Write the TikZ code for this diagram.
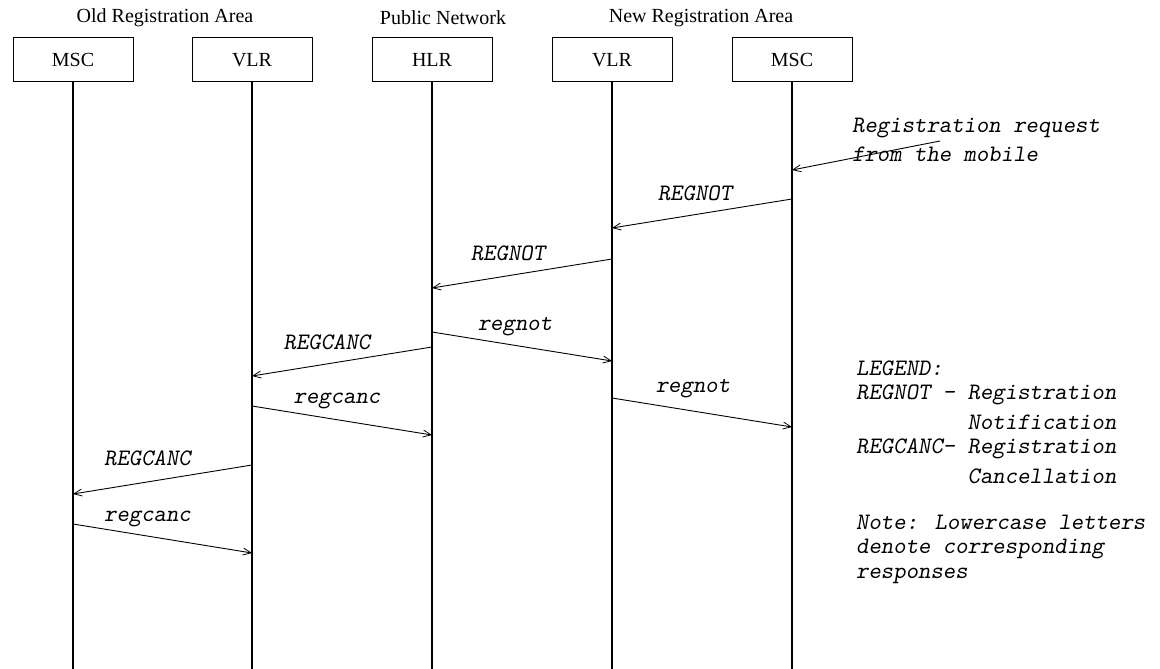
\documentclass[tikz,border=0pt]{standalone}
\usepackage{fontspec}
\setmainfont{Liberation Serif}
\usetikzlibrary{arrows.meta}
\begin{document}
\begin{tikzpicture}[x=1pt,y=-1pt,
  ent/.style={draw, line width=1pt, minimum width=120pt, minimum height=44pt, inner sep=0pt, font=\fontsize{20}{24}\selectfont},
  hdr/.style={font=\fontsize{20}{24}\selectfont, inner sep=0pt},
  life/.style={line width=2pt},
  msg/.style={line width=0.9pt, -{Straight Barb[length=8pt,width=7pt,line width=0.8pt]}},
  lbl/.style={font=\fontsize{23.6}{26}\selectfont\ttfamily\slshape, inner sep=0pt},
  leg/.style={lbl, anchor=west}]
\useasboundingbox (0,0) rectangle (1160,669);

% headers
\node[hdr] (hold) at (165,18) {Old Registration Area};
\node[hdr] (hpub) at (443,18) {Public Network};
\node[hdr] (hnew) at (701,18) {New Registration Area};

% entities
\node[ent] (m1) at (73,60) {MSC};
\node[ent] (v1) at (252,60) {VLR};
\node[ent] (h)  at (432,60) {HLR};
\node[ent] (v2) at (612,60) {VLR};
\node[ent] (m2) at (792,60) {MSC};

% lifelines
\foreach \n in {m1,v1,h,v2,m2}{
  \coordinate (\n end) at (\n.south |- 0,669);
  \draw[life] (\n.south) -- (\n end);
}

% request from the mobile
\node[lbl, anchor=west] (req1) at (852,128) {Registration request};
\node[lbl, anchor=west] (req2) at (852,154) {from the mobile};
\coordinate (rqs) at (940,141);
\coordinate (rqe) at (m2 |- 0,170);
\draw[msg] (rqs) -- (rqe);

% message end points
\coordinate (a1s) at (m2 |- 0,199); \coordinate (a1e) at (v2 |- 0,228);
\coordinate (a2s) at (v2 |- 0,259); \coordinate (a2e) at (h |- 0,288);
\coordinate (a3s) at (h |- 0,332);  \coordinate (a3e) at (v2 |- 0,361);
\coordinate (a4s) at (h |- 0,347);  \coordinate (a4e) at (v1 |- 0,376);
\coordinate (a5s) at (v1 |- 0,406); \coordinate (a5e) at (h |- 0,435);
\coordinate (a6s) at (v2 |- 0,398); \coordinate (a6e) at (m2 |- 0,427);
\coordinate (a7s) at (v1 |- 0,465); \coordinate (a7e) at (m1 |- 0,494);
\coordinate (a8s) at (m1 |- 0,524); \coordinate (a8e) at (v1 |- 0,553);

\draw[msg] (a1s) -- node[lbl, xshift=-7, yshift=20] (l1) {REGNOT} (a1e);
\draw[msg] (a2s) -- node[lbl, xshift=-14, yshift=20] (l2) {REGNOT} (a2e);
\draw[msg] (a3s) -- node[lbl, xshift=-7, yshift=19.5] (l3) {regnot} (a3e);
\draw[msg] (a4s) -- node[lbl, xshift=-15, yshift=19.5] (l4) {REGCANC} (a4e);
\draw[msg] (a5s) -- node[lbl, xshift=-5, yshift=19.5] (l5) {regcanc} (a5e);
\draw[msg] (a6s) -- node[lbl, xshift=-9, yshift=24] (l6) {regnot} (a6e);
\draw[msg] (a7s) -- node[lbl, xshift=-15, yshift=21] (l7) {REGCANC} (a7e);
\draw[msg] (a8s) -- node[lbl, xshift=-15, yshift=19.5] (l8) {regcanc} (a8e);

% legend
\node[leg] (g1) at (856,368) {LEGEND:};
\node[leg] (g2) at (856,395) {REGNOT - Registration};
\node[leg] (g3) at (856,422) {\hphantom{REGNOT - }Notification};
\node[leg] (g4) at (856,449) {REGCANC- Registration};
\node[leg] (g5) at (856,476) {\hphantom{REGCANC- }Cancellation};
\node[leg] (g6) at (856,522) {Note: Lowercase letters};
\node[leg] (g7) at (856,549) {denote corresponding};
\node[leg] (g8) at (856,576) {responses};
\end{tikzpicture}
\end{document}
